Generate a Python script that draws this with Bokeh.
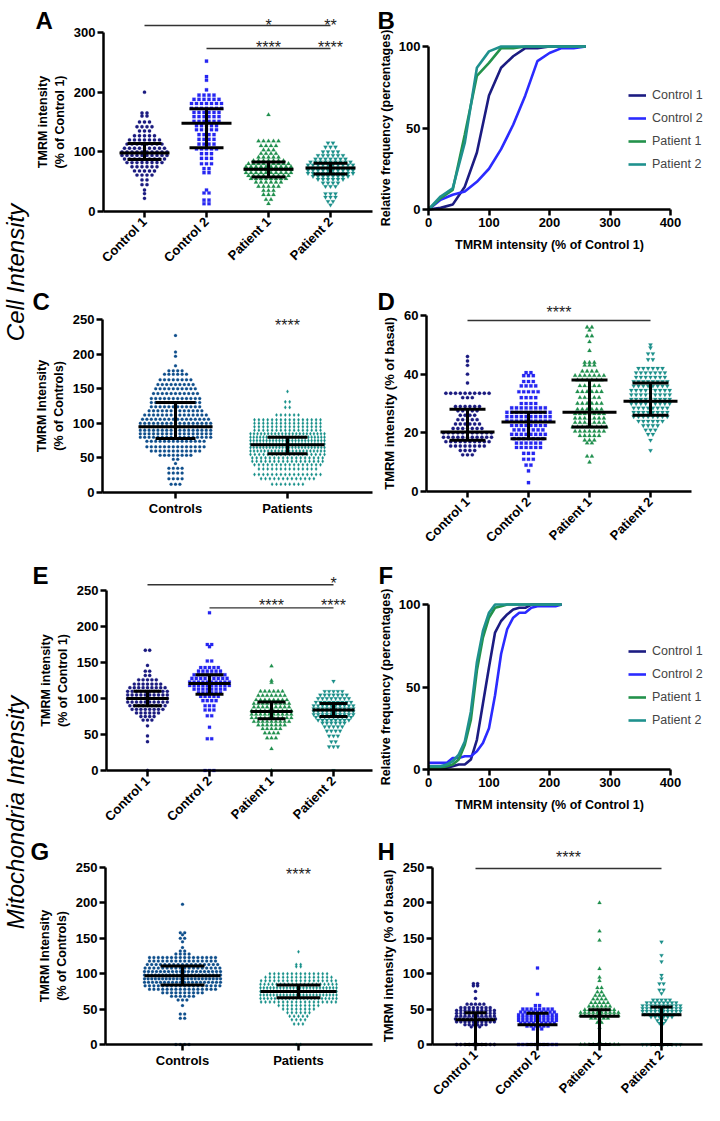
import math
from bokeh.plotting import figure
from bokeh.models import FixedTicker, Label, Legend, LegendItem, Range1d
from bokeh.layouts import row, column
from bokeh.embed import file_html
from bokeh.resources import INLINE
from bokeh.core.properties import value

FONT = "Liberation Sans"

GROUPS4 = ["Control 1", "Control 2", "Patient 1", "Patient 2"]
GROUPS2 = ["Controls", "Patients"]

# ---------------- data: dot plots as (value, number of dots in that row) ----------------
A_C1 = [(200,1),(165,2),(160,2),(150,3),(142,4),(135,3),(127,5),(120,7),(113,8),(106,9),(100,10),(94,10),
        (88,9),(82,8),(75,6),(68,5),(61,4),(53,2),(45,2),(36,1),(30,1),(22,1)]
A_C2 = [(252,1),(226,1),(220,1),(204,1),(195,4),(188,6),(181,7),(173,7),(166,6),(159,6),(151,6),(144,5),
        (137,5),(129,4),(121,4),(113,4),(105,5),(97,3),(89,3),(80,3),(72,2),(65,2),(36,1),(31,2),(19,2),(13,2)]
A_P1 = [(162,1),(118,5),(110,4),(103,3),(97,4),(91,5),(85,7),(80,9),(75,10),(70,10),(65,10),(60,9),(55,8),
        (49,6),(42,5),(35,3),(28,3),(20,2),(13,1)]
A_P2 = [(115,2),(108,3),(100,4),(94,6),(88,7),(83,9),(78,10),(73,10),(69,10),(64,10),(59,8),(54,6),(48,4),
        (42,3),(30,3),(24,3),(17,2),(11,1)]
A_MED = [98, 148, 71, 73]
A_Q1 = [87, 107, 58, 63]
A_Q3 = [114, 172, 83, 81]

B_X = [0, 20, 40, 60, 80, 100, 120, 140, 160, 180, 200, 220, 240, 260]
B_C1 = [0, 1, 3, 14, 35, 70, 87, 94, 99, 99, 100, 100, 100, 100]
B_C2 = [0, 6, 9, 11, 17, 25, 37, 52, 70, 91, 96, 99, 99, 100]
B_P1 = [0, 7, 12, 46, 82, 90, 99, 99, 100, 100, 100, 100, 100, 100]
B_P2 = [0, 8, 13, 41, 87, 97, 100, 100, 100, 100, 100, 100, 100, 100]

C_CTRL = [(227,1),(203,1),(197,1),(183,1),(176,4),(171,6),(163,8),(156,9),(150,10),(143,11),(136,12),(130,12),
          (124,12),(118,13),(112,15),(106,16),(100,17),(95,17),(90,17),(85,17),(80,17),(74,14),(66,14),
          (60,12),(54,8),(48,2),(42,1),(35,4),(28,4),(20,4),(12,3)]
C_PAT = [(146,1),(131,2),(123,2),(112,6),(105,16),(100,16),(95,16),(90,16),(85,22),(80,24),(75,24),(70,24),
         (65,24),(60,22),(55,18),(50,17),(45,17),(40,16),(34,14),(26,16),(20,13),(12,8)]
C_MED = [95, 69]
C_Q1 = [78, 56]
C_Q3 = [130, 80]

D_C1 = [(46,1),(44.5,1),(43,1),(40,1),(37,1),(33.5,10),(32,3),(29,6),(27.5,5),(26,4),(24.5,5),(23,6),
        (21.5,7),(20,11),(18.5,11),(17,10),(15.5,8),(14,4),(12.5,3)]
D_C2 = [(40.5,2),(39.5,3),(37.5,3),(36,4),(34,5),(32,4),(30,4),(28.5,8),(27,10),(25.5,10),(24,10),(22.5,8),
        (21,7),(19.5,8),(18,7),(16.5,6),(15,6),(13,3),(11,3),(9,2),(7,1),(3,1)]
D_P1 = [(56,2),(55,1),(53,2),(51,1),(48,1),(44,3),(43,3),(41,4),(39.5,7),(38,6),(36,5),(34,6),(32,5),(30,6),
        (28,6),(26.5,7),(25,7),(23.5,7),(22,8),(20.5,7),(19,5),(17.5,3),(16.5,2),(12,2),(10,1)]
D_P2 = [(50,1),(49,1),(47,2),(45,2),(42,6),(40.5,7),(39,7),(37.5,8),(36,8),(34.5,9),(33,9),(31.5,9),(30,9),
        (28.5,8),(27,8),(25.5,8),(24,6),(22.5,4),(21,3),(19.5,2),(17.5,1),(14,1)]
D_MED = [20.3, 23.7, 27, 30.8]
D_Q1 = [17.5, 18, 22, 26]
D_Q3 = [28, 27, 38, 37]

E_C1 = [(167,2),(146,1),(138,2),(132,2),(126,5),(120,7),(115,9),(110,10),(105,10),(100,10),(95,10),(90,9),
        (85,8),(80,6),(75,4),(70,3),(62,1),(48,1),(40,1),(0,1)]
E_C2 = [(219,1),(175,2),(172,1),(152,2),(143,5),(138,6),(133,8),(128,9),(123,10),(118,10),(113,8),(108,6),
        (103,5),(97,4),(90,3),(84,3),(76,2),(60,1),(44,2),(0,3)]
E_P1 = [(145,1),(125,1),(122,1),(110,6),(104,7),(98,8),(93,9),(88,9),(83,10),(78,10),(73,10),(68,9),(63,7),
        (58,5),(52,4),(45,3),(30,1),(0,1)]
E_P2 = [(124,1),(110,5),(105,7),(100,8),(95,9),(90,10),(86,10),(82,10),(78,10),(74,9),(70,8),(66,6),(61,5),
        (55,4),(48,3),(40,2),(33,3),(0,1)]
E_MED = [100, 121, 82, 84]
E_Q1 = [90, 106, 72, 75]
E_Q3 = [110, 133, 95, 93]

F_X = [0, 10, 20, 30, 40, 50, 60, 70, 80, 90, 100, 110, 120, 130, 140, 150, 160, 170, 180, 190, 200, 210, 220]
F_C1 = [1, 1, 1, 1, 2, 3, 3, 6, 18, 40, 62, 83, 90, 94, 97, 98, 98, 100, 100, 100, 100, 100, 100]
F_C2 = [4, 4, 4, 4, 7, 7, 8, 8, 11, 16, 25, 45, 70, 85, 92, 95, 95, 98, 99, 99, 99, 99, 100]
F_P1 = [1, 1, 1, 2, 3, 6, 15, 30, 60, 80, 92, 98, 99, 100, 100, 100, 100, 100, 100, 100, 100, 100, 100]
F_P2 = [2, 2, 2, 3, 5, 9, 17, 35, 65, 84, 95, 100, 100, 100, 100, 100, 100, 100, 100, 100, 100, 100, 100]

G_CTRL = [(198,1),(158,2),(155,1),(150,2),(145,1),(137,1),(132,2),(128,4),(123,16),(118,16),(113,17),(108,18),
          (103,20),(98,22),(93,22),(88,20),(83,18),(78,16),(73,10),(68,6),(63,3),(55,1),(43,2),(37,2),(0,4)]
G_PAT = [(131,1),(113,2),(110,2),(100,14),(95,16),(90,18),(85,20),(80,24),(75,24),(70,24),(65,22),(60,18),
         (55,10),(50,8),(45,6),(40,5),(35,4),(29,3),(0,2)]
G_MED = [97, 75]
G_Q1 = [84, 66]
G_Q3 = [111, 84]

H_C1 = [(86,2),(83,2),(75,1),(65,1),(57,5),(52,8),(48,10),(44,10),(40,10),(36,11),(32,10),(28,6),(25,3),(0,10)]
H_C2 = [(108,1),(71,1),(55,2),(50,8),(46,9),(42,10),(38,10),(34,10),(30,9),(26,6),(22,3),(0,10)]
H_P1 = [(200,1),(160,1),(147,1),(107,1),(95,1),(90,1),(80,2),(74,2),(69,3),(64,4),(59,5),(54,6),(49,8),
        (45,10),(41,10),(37,5),(31,2),(24,1),(0,10)]
H_P2 = [(145,1),(126,1),(117,1),(98,1),(93,1),(86,2),(77,2),(72,1),(63,5),(59,8),(55,10),(51,10),(47,10),
        (43,9),(39,6),(34,3),(30,2),(0,10)]
H_MED = [35, 28, 40, 42]
H_Q1 = [0, 0, 0, 0]
H_Q3 = [45, 44, 49, 53]

# ---------------- styles ----------------
COL4 = ["#1b1b80", "#2626f2", "#1f8f4d", "#1b8f8a"]
MK4 = ["circle", "square", "triangle", "inverted_triangle"]
COL2 = ["#0f4f8c", "#17918a"]
MK2 = ["circle", "diamond"]
LINE_COL = ["#1c1c82", "#2b2bff", "#23924b", "#1f918e"]


def make_fig(w, h, xa, pxa, xb, pxb, ya, pya, yb, pyb, axis_px, right_px):
    """Figure whose frame fills the whole canvas; data mapped so that xa->pxa etc. (pixels from top-left)."""
    kx = (pxb - pxa) / (xb - xa)
    x0 = xa - pxa / kx
    ky = (pya - pyb) / (yb - ya)
    y1 = ya + pya / ky
    y0 = y1 - h / ky
    p = figure(width=w, height=h, x_range=Range1d(x0, x0 + w / kx), y_range=Range1d(y0, y1),
               output_backend="svg", toolbar_location=None, min_border=0)
    p.outline_line_color = None
    p.xgrid.visible = False
    p.ygrid.visible = False
    xaxis_at = x0 + axis_px / kx
    p.yaxis.fixed_location = xaxis_at
    p.xaxis.fixed_location = 0
    p.xaxis.bounds = (xaxis_at, x0 + right_px / kx)
    for ax in (p.xaxis[0], p.yaxis[0]):
        ax.axis_line_width = 2.5
        ax.axis_line_color = "black"
        ax.major_tick_line_width = 2.5
        ax.major_tick_out = 6
        ax.major_tick_in = 0
        ax.minor_tick_line_color = None
        ax.major_label_text_font = FONT
        ax.major_label_text_font_style = "bold"
        ax.major_label_text_font_size = "13px"
        ax.major_label_text_color = "black"
        ax.major_label_standoff = 2
        ax.axis_label_text_font = FONT
        ax.axis_label_text_font_style = "bold"
        ax.axis_label_text_font_size = "12.5px"
        ax.axis_label_text_color = "black"
        ax.axis_label_standoff = 4
    return p, kx


def add_label(p, h, lx, ly, text, size, style="bold"):
    p.add_layout(Label(x=lx, y=h - ly, x_units="screen", y_units="screen", text=text,
                       text_font=FONT, text_font_size=size, text_font_style=style,
                       text_align="left", text_baseline="alphabetic", text_color="black"))


def swarm(rows, xc, kx, step_px, max_half_px):
    xs, ys = [], []
    for v, n in rows:
        step = step_px
        if n > 1 and (n - 1) * step / 2 > max_half_px:
            step = 2 * max_half_px / (n - 1)
        for i in range(n):
            xs.append(xc + (i - (n - 1) / 2) * step / kx)
            ys.append(v)
    return xs, ys


def dot_panel(w, h, c1_px, dx_px, axis_px, right_px, y0_px, ytop, ytop_px, yticks, ylabel, groups,
              series, markers, colors, sizes, med, q1, q3, step, maxhalf, medhalf, caphalf, rotate):
    p, kx = make_fig(w, h, 1, c1_px, 2, c1_px + dx_px, 0, y0_px, ytop, ytop_px, axis_px, right_px)
    for i, (rows, mk, col, sz) in enumerate(zip(series, markers, colors, sizes)):
        xs, ys = swarm(rows, i + 1, kx, step, maxhalf)
        p.scatter(x=xs, y=ys, marker=mk, size=sz, fill_color=col, line_color=col, line_width=0.2)
    for i in range(len(groups)):
        xc = i + 1
        p.segment(x0=[xc - medhalf / kx, xc - caphalf / kx, xc - caphalf / kx, xc],
                  y0=[med[i], q1[i], q3[i], q1[i]],
                  x1=[xc + medhalf / kx, xc + caphalf / kx, xc + caphalf / kx, xc],
                  y1=[med[i], q1[i], q3[i], q3[i]],
                  line_color="black", line_width=3)
    p.xaxis.ticker = FixedTicker(ticks=list(range(1, len(groups) + 1)))
    p.xaxis.major_label_overrides = {i + 1: g for i, g in enumerate(groups)}
    if rotate:
        p.xaxis.major_label_orientation = math.pi / 4
    p.yaxis.ticker = FixedTicker(ticks=yticks)
    p.yaxis.bounds = (yticks[0], yticks[-1])
    p.yaxis.axis_label = ylabel
    return p


def sig(p, lines, stars):
    for x0, x1, y in lines:
        p.segment(x0=[x0], y0=[y], x1=[x1], y1=[y], line_color="#333333", line_width=1.3)
    for x, y, t in stars:
        p.text(x=[x], y=[y], text=[t], text_font=value(FONT), text_font_size="16px",
               text_align="center", text_baseline="middle", y_offset=4, text_color="#222222")


def cdf_panel(w, h, axis_px, px400, y0_px, y100_px, xs, series, legend_loc):
    p, kx = make_fig(w, h, 0, axis_px, 400, px400, 0, y0_px, 100, y100_px, axis_px, px400)
    items = []
    for name, ys, col in zip(GROUPS4, series, LINE_COL):
        r = p.line(x=xs, y=ys, line_color=col, line_width=2.6)
        items.append(LegendItem(label=name, renderers=[r]))
    lg = Legend(items=items, location=legend_loc, background_fill_alpha=0, border_line_color=None,
                padding=0, margin=0, spacing=7, glyph_height=16, glyph_width=18, label_height=16,
                label_standoff=6, label_text_font=FONT, label_text_font_size="12.5px")
    p.add_layout(lg)
    p.xaxis.ticker = FixedTicker(ticks=[0, 100, 200, 300, 400])
    p.yaxis.ticker = FixedTicker(ticks=[0, 50, 100])
    p.yaxis.bounds = (0, 100)
    p.xaxis.axis_label = "TMRM intensity (% of Control 1)"
    p.yaxis.axis_label = "Relative frequency (percentages)"
    p.xaxis.axis_label_standoff = 8
    p.yaxis.axis_label_standoff = 3
    return p


# ---------------- panels (pixel anchors are local to each panel) ----------------
LW, RW = 346, 328
H1, H2, H3, H4 = 276, 278, 276, 275

pA = dot_panel(LW, H1, 114, 62, 73, 342, 211, 300, 32, [0, 100, 200, 300], "TMRM intensity\n(% of Control 1)",
               GROUPS4, [A_C1, A_C2, A_P1, A_P2], MK4, COL4, [3.4, 3.2, 4.2, 4.2], A_MED, A_Q1, A_Q3,
               5.0, 24, 25, 17, True)
sig(pA, [(1, 4, 311.7), (2, 4, 273.2)], [(3, 318.4, "*"), (4, 318.4, "**"), (3, 281.6, "****"), (4, 281.6, "****")])
add_label(pA, H1, 5, 20, "A", "24px")

pB = cdf_panel(RW, H1, 52, 294, 209, 46, B_X, [B_C1, B_C2, B_P1, B_P2], (252, H1 - 172))
add_label(pB, H1, 1, 20, "B", "24px")

pC = dot_panel(LW, H2, 145, 112, 72, 342, 216, 250, 43, [0, 50, 100, 150, 200, 250], "TMRM Intensity\n(% of Controls)",
               GROUPS2, [C_CTRL, C_PAT], MK2, COL2, [3.0, 3.6], C_MED, C_Q1, C_Q3,
               4.4, 37, 37, 20, False)
sig(pC, [], [(2, 247, "****")])
add_label(pC, H2, 2, 25, "C", "24px")

pD = dot_panel(RW, H2, 91, 61, 50, 315, 215, 60, 39, [0, 20, 40, 60], "TMRM intensity (% of basal)",
               GROUPS4, [D_C1, D_C2, D_P1, D_P2], MK4, COL4, [3.4, 3.2, 4.2, 4.2], D_MED, D_Q1, D_Q3,
               4.8, 26, 27, 18, True)
pD.yaxis.axis_label_text_font_size = "13px"
sig(pD, [(1, 4, 58.3)], [(2.5, 62.4, "****")])
add_label(pD, H2, 1, 25, "D", "24px")

pE = dot_panel(LW, H3, 117, 62, 76, 342, 216, 250, 36, [0, 50, 100, 150, 200, 250], "TMRM intensity\n(% of Control 1)",
               GROUPS4, [E_C1, E_C2, E_P1, E_P2], MK4, COL4, [3.3, 3.1, 4.0, 4.0], E_MED, E_Q1, E_Q3,
               4.4, 21, 21, 14, True)
sig(pE, [(1, 4, 258), (2, 4, 226)], [(4, 265, "*"), (3, 234.7, "****"), (4, 234.7, "****")])
add_label(pE, H3, 2, 21, "E", "24px")

pF = cdf_panel(RW, H3, 52, 294, 215, 50, F_X, [F_C1, F_C2, F_P1, F_P2], (252, H3 - 174))
add_label(pF, H3, 2, 21, "F", "24px")

pG = dot_panel(LW, H4, 152, 116, 75, 342, 214, 250, 37, [0, 50, 100, 150, 200, 250], "TMRM Intensity\n(% of Controls)",
               GROUPS2, [G_CTRL, G_PAT], MK2, COL2, [3.0, 3.6], G_MED, G_Q1, G_Q3,
               4.4, 38, 38, 22, False)
sig(pG, [], [(2, 245.8, "****")])
add_label(pG, H4, 0, 21, "G", "24px")

pH = dot_panel(RW, H4, 99, 62, 56, 326, 214, 250, 37, [0, 50, 100, 150, 200, 250], "TMRM intensity (% of basal)",
               GROUPS4, [H_C1, H_C2, H_P1, H_P2], MK4, COL4, [3.3, 3.1, 4.0, 4.0], H_MED, H_Q1, H_Q3,
               4.2, 20, 20, 11, True)
pH.yaxis.axis_label_text_font_size = "13px"
sig(pH, [(1, 4, 248.6)], [(2.5, 269.8, "****")])
add_label(pH, H4, 1, 21, "H", "24px")


def side_fig(h, text, cy):
    p = figure(width=30, height=h, x_range=Range1d(0, 1), y_range=Range1d(0, 1),
               output_backend="svg", toolbar_location=None, min_border=0,
               x_axis_location=None, y_axis_location=None)
    p.outline_line_color = None
    p.grid.visible = False
    p.add_layout(Label(x=15, y=h - cy, x_units="screen", y_units="screen", text=text, angle=math.pi / 2,
                       text_align="center", text_baseline="middle", text_font=FONT,
                       text_font_style="italic", text_font_size="24px", text_color="black"))
    return p


side1 = side_fig(H1 + H2, "Cell Intensity", 272)
side2 = side_fig(H3 + H4, "Mitochondria Intensity", 258)

layout = row(column(side1, side2), column(pA, pC, pE, pG), column(pB, pD, pF, pH))

open("out.html", "w").write(file_html(layout, INLINE))
